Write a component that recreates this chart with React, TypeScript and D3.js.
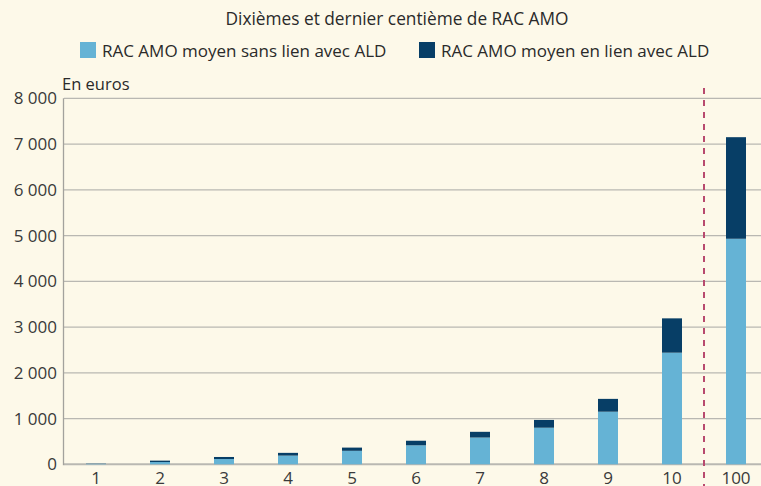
import React from 'react';
import * as d3 from 'd3';

const categories = ['1', '2', '3', '4', '5', '6', '7', '8', '9', '10', '100'];
const sansALD = [10, 50, 115, 190, 295, 415, 585, 800, 1150, 2440, 4930];
const enLienALD = [5, 30, 45, 60, 70, 100, 125, 170, 280, 750, 2220];
const yTicks = [0, 1000, 2000, 3000, 4000, 5000, 6000, 7000, 8000];
const seriesNames = ['RAC AMO moyen sans lien avec ALD', 'RAC AMO moyen en lien avec ALD'];
const colors = ['#65b3d5', '#073e66'];

const W = 761, H = 486;
const font = "'Open Sans', 'Noto Sans', sans-serif";

function App() {
  const x = d3.scaleBand<string>()
    .domain(categories)
    .range([64, 768])
    .paddingInner(0.6875)
    .paddingOuter(0.34375);

  const y = d3.scaleLinear().domain([0, 8000]).range([464.3, 98.3]);

  const fmt = (v: number) => d3.format(',')(v).replace(/,/g, ' ');

  const rows = categories.map((c, i) => ({ cat: c, sans: sansALD[i], en: enLienALD[i] }));
  const stack = d3.stack<any>().keys(['sans', 'en'])(rows);

  // separator between deciles and last centile
  const sepX = ((x('10') as number) + x.bandwidth() + (x('100') as number)) / 2;

  return (
    <div style={{ position: 'absolute', left: 0, top: 0 }}>
      <svg width={W} height={H} style={{ display: 'block', fontFamily: font }}>
        <rect width={W} height={H} fill="#fdf9e9" />
        <text x={397} y={25} textAnchor="middle" fontSize={17.3} fill="#2a2a2a">
          Dixièmes et dernier centième de RAC AMO
        </text>
        <g fontSize={17} fill="#2a2a2a">
          <rect x={80} y={42} width={16} height={16} fill={colors[0]} />
          <text x={102} y={56.5}>{seriesNames[0]}</text>
          <rect x={419} y={42} width={16} height={16} fill={colors[1]} />
          <text x={441} y={56.5}>{seriesNames[1]}</text>
        </g>
        <text x={62} y={90} fontSize={16.5} fill="#2a2a2a">En euros</text>

        <g>
          {yTicks.map(t => (
            <g key={t}>
              <line x1={64} x2={W} y1={y(t)} y2={y(t)} stroke="#b9b8b2" strokeWidth={t === 0 ? 2 : 1.3} />
              <text x={57} y={y(t)} dy="0.36em" textAnchor="end" fontSize={17} fill="#3a3a3a">{fmt(t)}</text>
            </g>
          ))}
          <line x1={63.5} x2={63.5} y1={y(8000)} y2={y(0) + 1} stroke="#a3a29d" strokeWidth={1.3} />
        </g>

        {stack.map((s, si) => (
          <g key={si} fill={colors[si]}>
            {s.map((d: any) => (
              <rect key={d.data.cat}
                x={x(d.data.cat)}
                width={x.bandwidth()}
                y={y(d[1])}
                height={y(d[0]) - y(d[1])} />
            ))}
          </g>
        ))}

        <line x1={sepX} x2={sepX} y1={88} y2={H} stroke="#b84a6e" strokeWidth={2} strokeDasharray="6 6" />

        <g fontSize={17} fill="#3a3a3a">
          {categories.map(c => (
            <text key={c} x={(x(c) as number) + x.bandwidth() / 2} y={484} textAnchor="middle">{c}</text>
          ))}
        </g>
      </svg>
    </div>
  );
}

export default App;
